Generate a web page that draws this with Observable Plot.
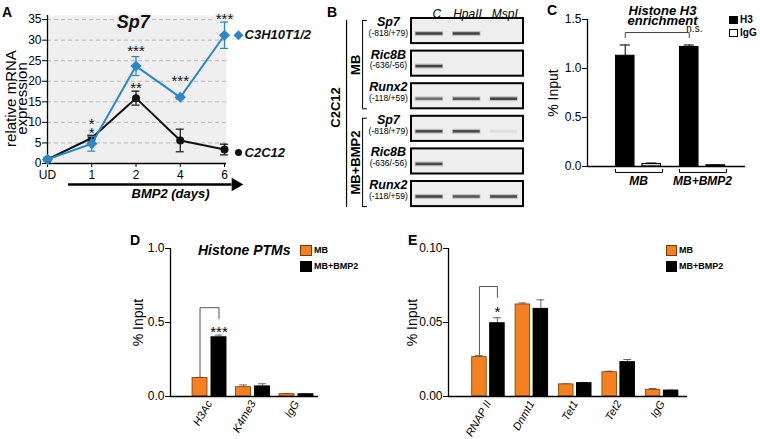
<!DOCTYPE html>
<html><head><meta charset="utf-8">
<script src="https://cdn.jsdelivr.net/npm/d3@7"></script>
<script src="https://cdn.jsdelivr.net/npm/@observablehq/plot@0.6"></script>
<style>
html,body{margin:0;padding:0;background:#fff;}
#fig{position:relative;width:760px;height:439px;overflow:hidden;font-family:"Liberation Sans",Arial,Helvetica,sans-serif;}
.lab{position:absolute;font-weight:bold;font-size:14px;line-height:1;}
.leg{position:absolute;font-weight:bold;line-height:1;display:flex;align-items:center;white-space:nowrap;}
.sw{display:inline-block;box-sizing:border-box;margin-right:2px;}
</style></head><body><div id="fig"></div>
<script>
// ---------- Panel A data ----------
const days = ["UD", "1", "2", "4", "6"];
const c3h10Mean = [1.0, 4.8, 23.7, 16.1, 31.2];
const c3h10Err  = [0.3, 1.8, 2.3, 0.4, 3.2];
const c2c12Mean = [1.0, 6.2, 15.9, 5.6, 3.4];
const c2c12Err  = [0.3, 0.7, 1.7, 2.75, 1.3];
const starDay  = ["1", "2", "2", "4", "6"];
const starText = ["*\n*", "***", "**", "***", "***"];
const starY    = [8.7, 27.6, 18.6, 20.2, 35.4];
const yLabelA  = ["relative mRNA", "expression"];

// ---------- Panel B data ----------
const lanes = ["C", "HpaII", "MspI"];
const conditions = ["MB", "MB+BMP2"];
const genes = ["Sp7", "Ric8B", "Runx2"];
const amplicons = ["(-818/+79)", "(-636/-56)", "(-118/+59)"];
const bandsMB   = [[1, 1, 0], [1, 0, 0], [0.7, 0.85, 1]];
const bandsBMP2 = [[0.95, 0.95, 0.07], [0.95, 0, 0], [1, 0.85, 0.95]];

// ---------- Panel C data ----------
const groupsC = ["MB", "MB+BMP2"];
const h3Val = [1.13, 1.22];
const h3Err = [0.11, 0.02];
const iggCVal = [0.025, 0.012];
const iggCErr = [0.01, 0.004];
const titleC = "Histone H3\nenrichment";

// ---------- Panel D data ----------
const marksD = ["H3Ac", "K4me3", "IgG"];
const mbD = [0.125, 0.063, 0.016];
const mbDErr = [0.004, 0.015, 0.002];
const bmpD = [0.40, 0.068, 0.015];
const bmpDErr = [0.015, 0.018, 0.002];

// ---------- Panel E data ----------
const targetsE = ["RNAP II", "Dnmt1", "Tet1", "Tet2", "IgG"];
const mbE = [0.0266, 0.0622, 0.0082, 0.0164, 0.0045];
const mbEErr = [0.001, 0.001, 0.0003, 0.0007, 0.0009];
const bmpE = [0.0495, 0.0592, 0.0090, 0.0232, 0.0040];
const bmpEErr = [0.0037, 0.0061, 0.0005, 0.0018, 0.0003];

const FONT = '"Liberation Sans", Arial, Helvetica, sans-serif';
const ORANGE = "#f5801f", ORANGE_STROKE = "#7a3a08";
const BLUE = "#2a88c8";
const fig = document.getElementById("fig");
function place(svg) {
  svg.style.position = "absolute"; svg.style.left = "0px"; svg.style.top = "0px";
  fig.appendChild(svg);
}
const baseStyle = {background: "transparent", fontFamily: FONT, fontSize: "12px", color: "#000", overflow: "visible"};

// ================= Panel A =================
{
  const idx = days.map((d, i) => i);
  const mk = (name, mean, err) => days.map((d, i) => ({s: name, i, v: mean[i], lo: mean[i] - err[i], hi: mean[i] + err[i]}));
  const blue = mk("C3H10T1/2", c3h10Mean, c3h10Err);
  const black = mk("C2C12", c2c12Mean, c2c12Err);
  const stars = starDay.map((d, k) => ({i: days.indexOf(d), t: starText[k], y: starY[k]}));
  const cap = 0.09;
  const errMarks = (pts, color) => [
    Plot.ruleX(pts, {x: "i", y1: "lo", y2: "hi", stroke: color, strokeWidth: 1.2}),
    Plot.ruleY(pts, {y: "hi", x1: d => d.i - cap, x2: d => d.i + cap, stroke: color, strokeWidth: 1.2}),
    Plot.ruleY(pts, {y: "lo", x1: d => d.i - cap, x2: d => d.i + cap, stroke: color, strokeWidth: 1.2})
  ];
  const lastBlue = blue[blue.length - 1], lastBlack = black[black.length - 1];
  place(Plot.plot({
    width: 760, height: 439,
    marginLeft: 47, marginRight: 760 - 226, marginTop: 15, marginBottom: 439 - 163,
    style: baseStyle,
    x: {type: "linear", domain: [0, 4.045]},
    y: {domain: [0, 36]},
    marks: [
      Plot.frame({fill: "#efefef", stroke: "none"}),
      Plot.ruleY(d3.range(5, 36, 5), {stroke: "#b8b8b8", strokeDasharray: "4,3"}),
      Plot.axisY({ticks: d3.range(0, 36, 5), tickSize: 5, tickPadding: 1, label: null, fontSize: 12}),
      Plot.axisX({ticks: idx, tickFormat: i => days[i], tickSize: 4, tickPadding: 3, label: null, fontSize: 12}),
      Plot.ruleX([0], {stroke: "#000", strokeWidth: 1.3}),
      Plot.ruleY([0], {stroke: "#000", strokeWidth: 1.3}),
      ...errMarks(black, "#111"),
      Plot.line(black, {x: "i", y: "v", stroke: "#111", strokeWidth: 2}),
      Plot.dot(black, {x: "i", y: "v", r: 4, fill: "#111", stroke: "none"}),
      ...errMarks(blue, BLUE),
      Plot.line(blue, {x: "i", y: "v", stroke: BLUE, strokeWidth: 2}),
      Plot.dot(blue, {x: "i", y: "v", r: 5, symbol: "diamond2", fill: BLUE, stroke: "none"}),
      Plot.text(stars, {x: "i", y: "y", text: "t", fontSize: 15, dy: 3, lineHeight: 0.6, fill: "#111", stroke: "#efefef", strokeWidth: 3, paintOrder: "stroke"}),
      Plot.text(["Sp7"], {x: () => 1.94, y: () => 34.3, text: d => d, fontSize: 18, fontWeight: "bold", fontStyle: "italic", fill: "#111", stroke: "#efefef", strokeWidth: 4, paintOrder: "stroke"}),
      Plot.dot([lastBlue], {x: "i", y: "v", dx: 14, r: 4.5, symbol: "diamond2", fill: BLUE}),
      Plot.text([lastBlue], {x: "i", y: "v", dx: 20, text: "s", textAnchor: "start", fill: "#111", fontSize: 13, fontWeight: "bold", fontStyle: "italic"}),
      Plot.dot([lastBlack], {x: "i", y: "v", dx: 14, dy: 3, r: 3.5, fill: "#111"}),
      Plot.text([lastBlack], {x: "i", y: "v", dx: 20, dy: 3, text: "s", textAnchor: "start", fill: "#111", fontSize: 13, fontWeight: "bold", fontStyle: "italic"}),
      Plot.ruleY([-5.1], {x1: 0.475, x2: 4.17, stroke: "#000", strokeWidth: 2.5}),
      Plot.dot([-5.1], {x: 4.25, y: d => d, symbol: "triangle", rotate: 90, r: 5, fill: "#000"}),
      Plot.text(["BMP2 (days)"], {x: () => 2.78, y: () => -7.4, text: d => d, fontSize: 13, fontWeight: "bold", fontStyle: "italic"}),
      Plot.text(yLabelA, {x: (d, i) => i === 0 ? -0.83 : -0.57, y: () => 15.8, text: d => d, rotate: -90, textAnchor: "middle", fontSize: 15})
    ]
  }));
}

// ================= Panel B =================
{
  const rowH = 0.77;
  const boxes = [], bands = [], labels = [];
  conditions.forEach((c, ci) => {
    const b = ci === 0 ? bandsMB : bandsBMP2;
    genes.forEach((g, gi) => {
      const row = ci * 3 + gi;
      boxes.push({row});
      labels.push({row, gene: g, amp: amplicons[gi]});
      lanes.forEach((l, li) => { if (b[gi][li] > 0) bands.push({row, lane: li, v: b[gi][li]}); });
    });
  });
  const conds = conditions.map((c, ci) => ({c, top: ci * 3 + 0.06, bot: ci * 3 + 2 + rowH, mid: ci * 3 + 1.42}));
  const xb = -1.31;
  place(Plot.plot({
    width: 760, height: 439,
    marginLeft: 411, marginRight: 760 - 523, marginTop: 18, marginBottom: 439 - 213.6,
    style: baseStyle,
    x: {type: "linear", domain: [0, 3], axis: null},
    y: {type: "linear", domain: [0, 6], reverse: true, axis: null},
    marks: [
      Plot.rect(boxes, {x1: () => 0, x2: () => 3, y1: "row", y2: d => d.row + rowH, fill: "#eeeeee", stroke: "#000", strokeWidth: 2}),
      Plot.ruleY(bands, {y: d => d.row + 0.46, x1: d => d.lane + 0.1, x2: d => d.lane + 0.86, stroke: "#555", strokeOpacity: d => 0.3 * d.v, strokeWidth: 5}),
      Plot.ruleY(bands, {y: d => d.row + 0.46, x1: d => d.lane + 0.12, x2: d => d.lane + 0.84, stroke: "#333", strokeOpacity: d => 0.9 * d.v, strokeWidth: 2.5}),
      Plot.text(lanes, {x: (d, i) => i + 0.5 + (i === 0 ? 0.18 : 0), y: () => -0.13, text: d => d, fontStyle: "italic", fontSize: 12}),
      Plot.text(labels, {x: () => -0.62, y: d => d.row + 0.11, text: "gene", fontSize: 12.5, fontWeight: "bold", fontStyle: "italic"}),
      Plot.text(labels, {x: () => -0.62, y: d => d.row + 0.445, text: "amp", fontSize: 8.5}),
      Plot.ruleX(conds, {x: () => xb, y1: "top", y2: "bot", stroke: "#000", strokeWidth: 1}),
      Plot.ruleY(conds, {y: "top", x1: () => xb, x2: () => xb + 0.13, stroke: "#000", strokeWidth: 1}),
      Plot.ruleY(conds, {y: "bot", x1: () => xb, x2: () => xb + 0.13, stroke: "#000", strokeWidth: 1}),
      Plot.text(conds, {x: () => -1.48, y: "mid", text: "c", rotate: -90, fontSize: 13, fontWeight: "bold"}),
      Plot.ruleX(["C2C12"], {x: () => -1.74, y1: () => 0.06, y2: () => 5.8, stroke: "#000", strokeWidth: 1.2}),
      Plot.text(["C2C12"], {x: () => -2.02, y: () => 2.73, text: d => d, rotate: -90, fontSize: 13, fontWeight: "bold"})
    ]
  }));
}

// ================= Panel C =================
{
  const off = 0.207, hw = 0.145, cw = 0.08;
  const bars = groupsC.flatMap((g, gi) => [
    {gi, s: "H3", x: gi - off, v: h3Val[gi], e: h3Err[gi]},
    {gi, s: "IgG", x: gi + off, v: iggCVal[gi], e: iggCErr[gi]}
  ]);
  const h3 = bars.filter(d => d.s === "H3"), igg = bars.filter(d => d.s === "IgG");
  const brk = groupsC.map((g, gi) => ({g, gi}));
  const xmin = -0.797, xmax = 1.672;
  place(Plot.plot({
    width: 760, height: 439,
    marginLeft: 587, marginRight: 760 - 745, marginTop: 19, marginBottom: 439 - 166,
    style: baseStyle,
    x: {type: "linear", domain: [xmin, xmax], axis: null},
    y: {domain: [0, 1.5]},
    marks: [
      Plot.axisY({ticks: [0, 0.5, 1, 1.5], tickFormat: d3.format(".1f"), tickSize: 5, tickPadding: 1, label: null, fontSize: 12}),
      Plot.ruleX([xmin], {stroke: "#000", strokeWidth: 1.3}),
      Plot.ruleX(bars, {x: "x", y1: "v", y2: d => d.v + d.e, stroke: "#222", strokeWidth: 1.2}),
      Plot.ruleY(bars, {y: d => d.v + d.e, x1: d => d.x - cw, x2: d => d.x + cw, stroke: "#222", strokeWidth: 1.2}),
      Plot.rect(h3, {x1: d => d.x - hw, x2: d => d.x + hw, y1: () => 0, y2: "v", fill: "#000", stroke: "#000"}),
      Plot.rect(igg, {x1: d => d.x - hw, x2: d => d.x + hw, y1: () => 0, y2: "v", fill: "#fff", stroke: "#000", strokeWidth: 1.2}),
      Plot.ruleY([0], {stroke: "#000", strokeWidth: 1.3}),
      Plot.line(brk.flatMap(b => [
        {gi: b.gi, x: b.gi - 0.36, y: -0.03}, {gi: b.gi, x: b.gi - 0.36, y: -0.061},
        {gi: b.gi, x: b.gi + 0.375, y: -0.061}, {gi: b.gi, x: b.gi + 0.375, y: -0.03}]),
        {x: "x", y: "y", z: "gi", stroke: "#000", strokeWidth: 1}),
      Plot.text(brk, {x: d => d.gi, y: () => -0.145, text: "g", fontSize: 12, fontWeight: "bold", fontStyle: "italic"}),
      Plot.line([{x: h3[0].x, y: 1.316}, {x: h3[0].x, y: 1.367}, {x: h3[1].x, y: 1.367}, {x: h3[1].x, y: 1.316}],
        {x: "x", y: "y", stroke: "#444", strokeWidth: 1}),
      Plot.text(["n.s."], {x: () => h3[1].x + 0.08, y: () => 1.375, lineAnchor: "bottom", text: d => d, fontSize: 10}),
      Plot.text([titleC], {x: () => 0.375, y: () => 1.53, text: d => d, fontSize: 13, lineHeight: 0.82, fontWeight: "bold", fontStyle: "italic"}),
      Plot.text(["% Input"], {frameAnchor: "left", dx: -34, rotate: -90, textAnchor: "middle", text: d => d, fontSize: 14})
    ]
  }));
}

// ================= Panels D and E =================
function barPanel({cats, mb, mbErr, bmp, bmpErr, left, right, yMax, ticks, fmt, xmin, xmax, off, hw, bracketTop, star, starY, labelDx, gapL, gapR}) {
  const cw = 0.09;
  const bars = cats.flatMap((c, i) => [
    {i, s: "MB", x: i - off, v: mb[i], e: mbErr[i]},
    {i, s: "MB+BMP2", x: i + off, v: bmp[i], e: bmpErr[i]}
  ]);
  const mbBars = bars.filter(d => d.s === "MB"), bmpBars = bars.filter(d => d.s === "MB+BMP2");
  const L = mbBars[0], R = bmpBars[0];
  place(Plot.plot({
    width: 760, height: 439,
    marginLeft: left, marginRight: 760 - right, marginTop: 248, marginBottom: 439 - 396,
    style: baseStyle,
    x: {type: "linear", domain: [xmin, xmax]},
    y: {domain: [0, yMax]},
    marks: [
      Plot.axisY({ticks, tickFormat: d3.format(fmt), tickSize: 5, tickPadding: 1, label: null, fontSize: 12}),
      Plot.axisX({ticks: cats.map((c, i) => i), tickFormat: i => cats[i], tickSize: 0, tickPadding: 5, tickRotate: -60, fontStyle: "italic", fontSize: 11, label: null}),
      Plot.ruleX([xmin], {stroke: "#000", strokeWidth: 1.3}),
      Plot.ruleX(bars, {x: "x", y1: "v", y2: d => d.v + d.e, stroke: "#666", strokeWidth: 1}),
      Plot.ruleY(bars, {y: d => d.v + d.e, x1: d => d.x - cw, x2: d => d.x + cw, stroke: "#666", strokeWidth: 1}),
      Plot.rect(mbBars, {x1: d => d.x - hw, x2: d => d.x + hw, y1: () => 0, y2: "v", fill: ORANGE, stroke: ORANGE_STROKE, strokeWidth: 0.8}),
      Plot.rect(bmpBars, {x1: d => d.x - hw, x2: d => d.x + hw, y1: () => 0, y2: "v", fill: "#000", stroke: "#000"}),
      Plot.ruleY([0], {stroke: "#000", strokeWidth: 1.3}),
      Plot.line([{x: L.x, y: L.v + L.e + gapL}, {x: L.x, y: bracketTop}, {x: R.x, y: bracketTop}, {x: R.x, y: R.v + R.e + gapR}],
        {x: "x", y: "y", stroke: "#555", strokeWidth: 1}),
      Plot.text([star], {x: () => R.x, y: () => starY, text: d => d, fontSize: 15, dy: 3}),
      Plot.text(["% Input"], {frameAnchor: "left", dx: labelDx, rotate: -90, textAnchor: "middle", text: d => d, fontSize: 14})
    ]
  }));
}
barPanel({cats: marksD, mb: mbD, mbErr: mbDErr, bmp: bmpD, bmpErr: bmpDErr, left: 170, right: 318, yMax: 1,
  ticks: [0, 0.5, 1], fmt: ".1f", xmin: -0.897, xmax: 2.506, off: 0.218, hw: 0.172,
  bracketTop: 0.60, star: "***", starY: 0.455, labelDx: -32, gapL: 0.003, gapR: 0.11});
barPanel({cats: targetsE, mb: mbE, mbErr: mbEErr, bmp: bmpE, bmpErr: bmpEErr, left: 448, right: 687, yMax: 0.1,
  ticks: [0, 0.05, 0.1], fmt: ".2f", xmin: -0.92, xmax: 4.585, off: 0.207, hw: 0.167,
  bracketTop: 0.0743, star: "*", starY: 0.059, labelDx: -36, gapL: 0.0005, gapR: 0.0137});

// D title
{
  const t = document.createElement("div");
  t.className = "lab"; t.style.fontStyle = "italic"; t.style.fontSize = "14px";
  t.style.left = "198px"; t.style.top = "243px"; t.textContent = "Histone PTMs";
  fig.appendChild(t);
}

// ---------- Legends & panel letters (HTML) ----------
function legend(items, x, y, dy, sw, sh, fs) {
  items.forEach((it, k) => {
    const d = document.createElement("div");
    d.className = "leg";
    d.style.left = x + "px"; d.style.top = (y + k * dy) + "px"; d.style.fontSize = fs + "px";
    const s = document.createElement("span");
    s.className = "sw"; s.style.width = sw + "px"; s.style.height = sh + "px";
    s.style.background = it.fill; s.style.border = "1px solid " + it.stroke;
    d.appendChild(s); d.appendChild(document.createTextNode(it.label));
    fig.appendChild(d);
  });
}
legend([{label: "H3", fill: "#000", stroke: "#000"}, {label: "IgG", fill: "#fff", stroke: "#000"}], 729, 15, 13, 9, 8, 10);
legend([{label: "MB", fill: ORANGE, stroke: ORANGE_STROKE}, {label: "MB+BMP2", fill: "#000", stroke: "#000"}], 300, 245, 16, 12, 11, 9);
legend([{label: "MB", fill: ORANGE, stroke: ORANGE_STROKE}, {label: "MB+BMP2", fill: "#000", stroke: "#000"}], 666, 245, 16, 11, 11, 9);

[["A", 2, 5], ["B", 327, 5], ["C", 547, 3], ["D", 130, 233], ["E", 408, 233]].forEach(([t, x, y]) => {
  const d = document.createElement("div");
  d.className = "lab"; d.textContent = t; d.style.left = x + "px"; d.style.top = y + "px";
  fig.appendChild(d);
});
</script></body></html>
